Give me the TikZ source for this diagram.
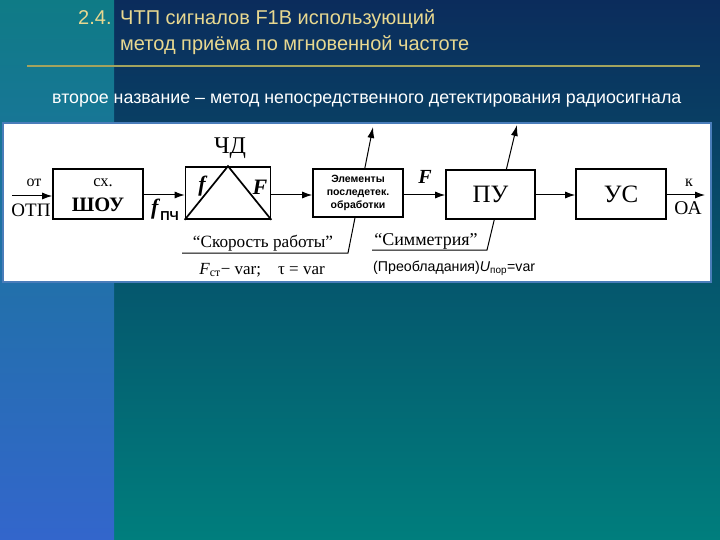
\documentclass[tikz,border=0pt]{standalone}
\usepackage{fontspec}
\setmainfont{Liberation Serif}
\setsansfont{Liberation Sans}
\usetikzlibrary{arrows.meta}
\definecolor{navy}{HTML}{0B2C5C}
\definecolor{midteal}{HTML}{035C74}
\definecolor{botteal}{HTML}{007E7D}
\definecolor{stripTop}{HTML}{0F7B86}
\definecolor{stripMid}{HTML}{2170AA}
\definecolor{stripBot}{HTML}{3366CC}
\definecolor{titlecol}{HTML}{E8D890}
\definecolor{rulecol}{HTML}{A3A35E}
\definecolor{panelborder}{HTML}{4A7DBA}
\begin{document}
\begin{tikzpicture}[x=1pt,y=-1pt,
  blk/.style={draw, line width=1.7pt, fill=white, inner sep=0pt, align=center},
  conn/.style={line width=1pt, -{Latex[length=10pt,width=7pt]}},
  lbl/.style={inner sep=0pt}]
\useasboundingbox (0,0) rectangle (720,540);
% background
\shade[top color=navy, middle color=midteal, bottom color=botteal] (0,0) rectangle (720,540);
\shade[top color=stripTop, middle color=stripMid, bottom color=stripBot] (0,0) rectangle (114,540);
% title
\node[lbl, anchor=base west, text=titlecol, font=\sffamily\fontsize{20}{22}\selectfont] (num) at (78,25) {2.4.};
\node[lbl, anchor=base west, text=titlecol, font=\sffamily\fontsize{20}{22}\selectfont] (t1) at (120,25) {ЧТП сигналов F1В использующий};
\node[lbl, anchor=base west, text=titlecol, font=\sffamily\fontsize{20}{22}\selectfont] (t2) at (120,51) {метод приёма по мгновенной частоте};
\coordinate (r1) at (27,66);
\coordinate (r2) at (700,66);
\draw[rulecol, line width=2pt] (r1) -- (r2);
\node[lbl, anchor=base west, text=white, font=\sffamily\fontsize{17.8}{19}\selectfont] (sub) at (52,104) {второе название – метод непосредственного детектирования радиосигнала};
% panel
\draw[draw=panelborder, line width=1.5pt, fill=white] (3,123) rectangle (711,282);
% variable-parameter arrows (drawn under boxes)
\coordinate (e1) at (182,253);
\coordinate (e2) at (348,253);
\coordinate (e3) at (373,127);
\draw[line width=1pt, -{Latex[length=11pt,width=7pt]}] (e1) -- (e2) -- (e3);
\coordinate (p1) at (372,250);
\coordinate (p2) at (487,250);
\coordinate (p3) at (517,125);
\draw[line width=1pt, -{Latex[length=11pt,width=7pt]}] (p1) -- (p2) -- (p3);
% blocks
\node[blk, minimum width=90pt, minimum height=50pt] (shou) at (98,194) {};
\node[lbl, font=\fontsize{16.5}{16}\selectfont] (shou1) at (103,183) {сх.};
\node[lbl, font=\bfseries\fontsize{20.5}{20}\selectfont] (shou2) at (98,205) {ШОУ};
\node[blk, minimum width=85pt, minimum height=52pt] (chd) at (228,193) {};
\draw[line width=1.7pt] (chd.south west) -- (chd.north) -- (chd.south east);
\node[lbl, font=\fontsize{24}{24}\selectfont] (chdl) at (230,148) {ЧД};
\node[lbl, font=\bfseries\itshape\fontsize{22}{22}\selectfont] (fin) at (202,186) {f};
\node[lbl, font=\bfseries\itshape\fontsize{22}{22}\selectfont] (fout) at (260,187) {F};
\node[blk, minimum width=90pt, minimum height=48pt, font=\sffamily\bfseries\fontsize{10.5}{13}\selectfont] (elem) at (358,193) {Элементы\\последетек.\\обработки};
\node[blk, minimum width=89pt, minimum height=49pt, font=\fontsize{25}{25}\selectfont] (pu) at (490.5,194.5) {ПУ};
\node[blk, minimum width=90pt, minimum height=50pt, font=\fontsize{25}{25}\selectfont] (us) at (621,194) {УС};
% input / output
\coordinate (in) at (12,196);
\coordinate (out) at (705,195);
\draw[conn] (in) -- (shou.west |- in);
\node[lbl, font=\fontsize{16}{16}\selectfont] (ot) at (34,183) {от};
\node[lbl, font=\fontsize{19}{19}\selectfont] (otp) at (31,210) {ОТП};
\draw[conn] (us.east |- out) -- (out);
\node[lbl, font=\fontsize{16}{16}\selectfont] (k) at (689,183) {к};
\node[lbl, font=\fontsize{19.5}{19}\selectfont] (oa) at (688,208) {ОА};
% connectors
\draw[conn] (shou.east |- 0,195) -- (chd.west |- 0,195);
\draw[conn] (chd.east |- 0,195) -- (elem.west |- 0,195);
\draw[conn] (elem.east |- 0,195) -- (pu.west |- 0,195);
\draw[conn] (pu.east |- 0,195) -- (us.west |- 0,195);
% labels on connectors
\node[lbl, font=\fontsize{22}{22}\selectfont] (fpch) at (165,210) {\textbf{\textit{f}}\raisebox{-6pt}{\fontsize{13}{13}\selectfont\bfseries\sffamily ПЧ}};
\node[lbl, font=\bfseries\itshape\fontsize{20}{20}\selectfont] (Flab) at (425,177) {F};
\node[lbl, font=\fontsize{17.2}{17}\selectfont] (speed) at (263,243) {“Скорость работы”};
\node[lbl, font=\fontsize{17}{17}\selectfont] (speedv) at (262,270) {\textit{F}\textsubscript{ст}− var;\quad τ = var};
\node[lbl, font=\fontsize{18}{17}\selectfont] (sym) at (426,241) {“Симметрия”};
\node[lbl, anchor=west, font=\sffamily\fontsize{14.2}{14}\selectfont] (symv) at (373,268) {(Преобладания)\textit{U}\textsubscript{пор}=var};
\end{tikzpicture}
\end{document}
